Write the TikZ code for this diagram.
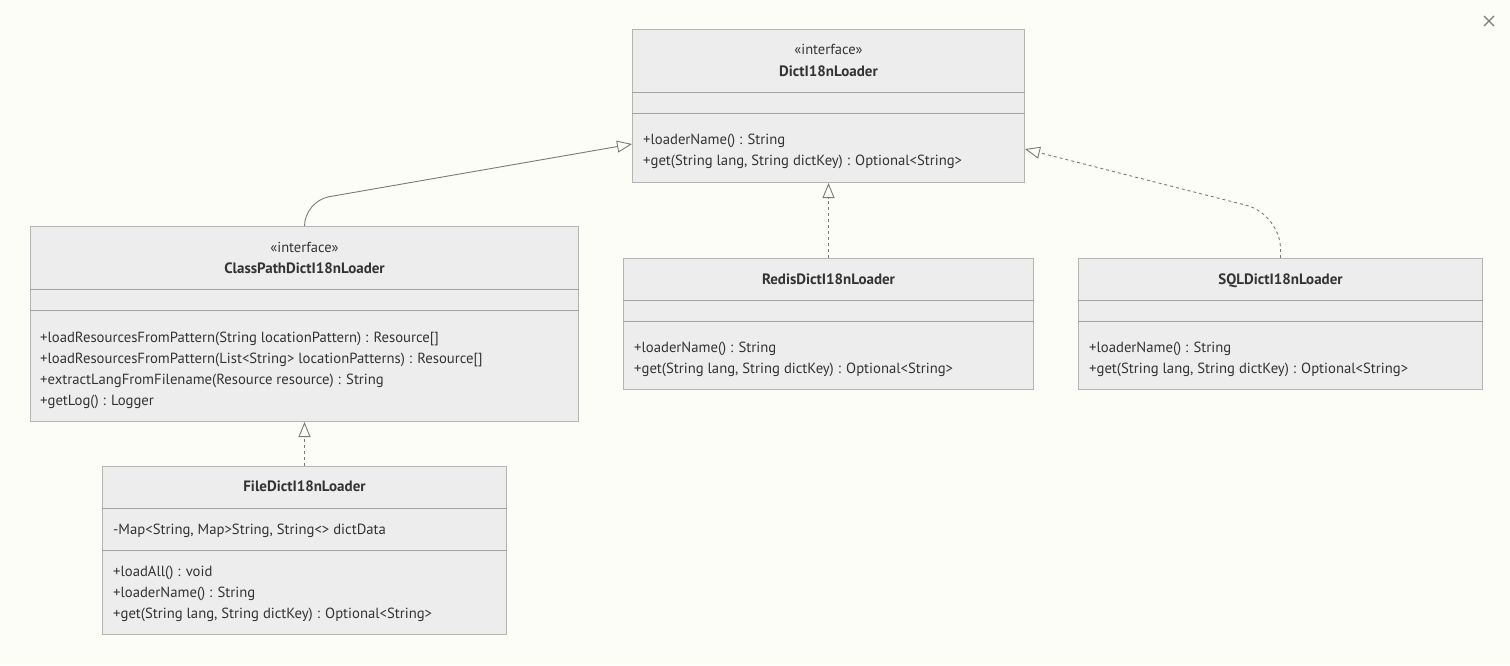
\documentclass[tikz,border=0pt]{standalone}
\usepackage{fontspec}
\setmainfont{PT Sans}
\usetikzlibrary{positioning,arrows.meta}
\definecolor{bgcol}{HTML}{FDFDF8}
\definecolor{boxfill}{HTML}{EDEDED}
\definecolor{boxline}{HTML}{B4B4B4}
\definecolor{sepcol}{HTML}{A2A2A2}
\definecolor{linkcol}{HTML}{7A7A7A}
\definecolor{textcol}{HTML}{333333}
\tikzset{%
umlbox/.style={draw=boxline,fill=boxfill,line width=1pt,anchor=north west,inner sep=0pt},
sepline/.style={draw=sepcol,line width=1pt},
stereo/.style={font=\fontsize{14.5}{16}\selectfont,text=textcol,inner sep=0pt,text height=12pt,text depth=1pt},
classname/.style={font=\fontsize{15}{17}\selectfont\bfseries,text=textcol,inner sep=0pt,text height=12pt,text depth=1pt},
member/.style={font=\fontsize{14.7}{17}\selectfont,text=textcol,anchor=west,inner sep=0pt,text height=12pt,text depth=1pt},
inherit/.style={draw=linkcol,line width=0.9pt,-{Triangle[open,length=15pt,width=12pt]}},
realize/.style={inherit,dash pattern=on 3pt off 3pt}
}
\begin{document}
\begin{tikzpicture}[x=1pt,y=1pt]
  \fill[bgcol] (0,0) rectangle (1510,-665);
  \useasboundingbox (0,0) rectangle (1510,-665);

  % the interface at the top
  \node[umlbox,minimum width=392pt,minimum height=153pt] (dict) at (632,-29) {};
  \draw[sepline] ([yshift=-63pt]dict.north west) -- ([yshift=-63pt]dict.north east);
  \draw[sepline] ([yshift=-84pt]dict.north west) -- ([yshift=-84pt]dict.north east);
  \node[stereo] (dictst) at ([yshift=-20pt]dict.north) {«interface»};
  \node[classname] (dictnm) at ([yshift=-42pt]dict.north) {DictI18nLoader};
  \node[member] (dictm1) at ([shift={(11pt,-110pt)}]dict.north west) {+loaderName() : String};
  \node[member] (dictm2) at ([shift={(11pt,-131pt)}]dict.north west) {+get(String lang, String dictKey) : Optional<String>};

  % classpath interface
  \node[umlbox,minimum width=548pt,minimum height=195pt] (cp) at (30,-226) {};
  \draw[sepline] ([yshift=-63pt]cp.north west) -- ([yshift=-63pt]cp.north east);
  \draw[sepline] ([yshift=-84pt]cp.north west) -- ([yshift=-84pt]cp.north east);
  \node[stereo] (cpst) at ([yshift=-21pt]cp.north) {«interface»};
  \node[classname] (cpnm) at ([yshift=-42pt]cp.north) {ClassPathDictI18nLoader};
  \node[member] (cpm1) at ([shift={(10pt,-111pt)}]cp.north west) {+loadResourcesFromPattern(String locationPattern) : Resource[]};
  \node[member] (cpm2) at ([shift={(10pt,-132pt)}]cp.north west) {+loadResourcesFromPattern(List<String> locationPatterns) : Resource[]};
  \node[member] (cpm3) at ([shift={(10pt,-153pt)}]cp.north west) {+extractLangFromFilename(Resource resource) : String};
  \node[member] (cpm4) at ([shift={(10pt,-174pt)}]cp.north west) {+getLog() : Logger};

  % file loader
  \node[umlbox,minimum width=404pt,minimum height=168pt] (file) at (102,-466) {};
  \draw[sepline] ([yshift=-42pt]file.north west) -- ([yshift=-42pt]file.north east);
  \draw[sepline] ([yshift=-84pt]file.north west) -- ([yshift=-84pt]file.north east);
  \node[classname] (filenm) at ([yshift=-20pt]file.north) {FileDictI18nLoader};
  \node[member] (filea1) at ([shift={(11pt,-63pt)}]file.north west) {-Map<String, Map>String, String<> dictData};
  \node[member] (filem1) at ([shift={(11pt,-105pt)}]file.north west) {+loadAll() : void};
  \node[member] (filem2) at ([shift={(11pt,-126pt)}]file.north west) {+loaderName() : String};
  \node[member] (filem3) at ([shift={(11pt,-147pt)}]file.north west) {+get(String lang, String dictKey) : Optional<String>};

  % redis loader
  \node[umlbox,minimum width=410pt,minimum height=131pt] (redis) at (623,-258) {};
  \draw[sepline] ([yshift=-42pt]redis.north west) -- ([yshift=-42pt]redis.north east);
  \draw[sepline] ([yshift=-63pt]redis.north west) -- ([yshift=-63pt]redis.north east);
  \node[classname] (redisnm) at ([yshift=-21pt]redis.north) {RedisDictI18nLoader};
  \node[member] (redism1) at ([shift={(11pt,-89pt)}]redis.north west) {+loaderName() : String};
  \node[member] (redism2) at ([shift={(11pt,-110pt)}]redis.north west) {+get(String lang, String dictKey) : Optional<String>};

  % sql loader
  \node[umlbox,minimum width=404pt,minimum height=131pt] (sql) at (1078,-258) {};
  \draw[sepline] ([yshift=-42pt]sql.north west) -- ([yshift=-42pt]sql.north east);
  \draw[sepline] ([yshift=-63pt]sql.north west) -- ([yshift=-63pt]sql.north east);
  \node[classname] (sqlnm) at ([yshift=-21pt]sql.north) {SQLDictI18nLoader};
  \node[member] (sqlm1) at ([shift={(11pt,-89pt)}]sql.north west) {+loaderName() : String};
  \node[member] (sqlm2) at ([shift={(11pt,-110pt)}]sql.north west) {+get(String lang, String dictKey) : Optional<String>};

  % relations
  \draw[inherit,rounded corners=25pt] (cp.north) -- ++(0,25) -- ([yshift=-38pt]dict.west);
  \draw[realize] (redis.north) -- (dict.south);
  \draw[realize,rounded corners=35pt] (sql.north) -- ++(0,44) -- ([yshift=-43pt]dict.east);
  \draw[realize] (file.north) -- (cp.south);

  % close mark
  \draw[linkcol,line width=1.2pt] (1484,-16) -- (1494,-26) (1484,-26) -- (1494,-16);
\end{tikzpicture}
\end{document}
